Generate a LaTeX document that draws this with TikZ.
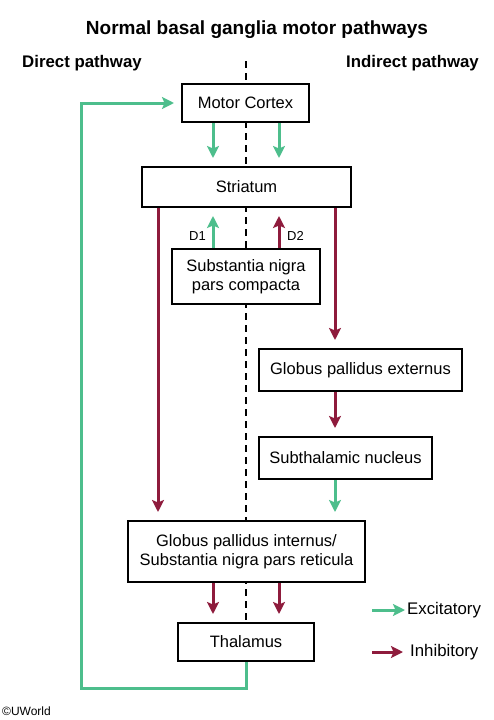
\documentclass[tikz,border=0pt]{standalone}
\usepackage{fontspec}
\setmainfont{Liberation Sans}
\usetikzlibrary{arrows.meta,backgrounds}
\definecolor{excgreen}{HTML}{4DBE8C}
\definecolor{inhred}{HTML}{8E1B3C}
\begin{document}
\begin{tikzpicture}[x=1pt,y=-1pt,
  box/.style={draw=black, line width=2pt, fill=white, inner sep=0pt, align=center, font=\fontsize{16.5}{19.5}\selectfont},
  conn/.style={line width=3pt, -{Stealth[length=12pt,width=12pt,inset=2.5pt]}, shorten >=8pt},
  exc/.style={conn, draw=excgreen, color=excgreen},
  inh/.style={conn, draw=inhred, color=inhred},
  head/.style={font=\fontsize{16.8}{20}\selectfont\bfseries},
  small/.style={font=\fontsize{13}{15}\selectfont, inner sep=1pt},
  legtext/.style={font=\fontsize{16.8}{20}\selectfont, anchor=west, inner sep=1pt},
  midline/.style={line width=2pt, dash pattern=on 7pt off 5pt}
]
\useasboundingbox (0,0) rectangle (493,720);

% headers
\node[font=\fontsize{19}{22}\selectfont\bfseries] (title) at (257,30) {Normal basal ganglia motor pathways};
\node[head] (direct) at (82,63) {Direct pathway};
\node[head] (indirect) at (412.5,63) {Indirect pathway};

% column positions
\coordinate (dtop) at (246,61);
\coordinate (L) at (213,0);
\coordinate (R) at (279,0);
\coordinate (F) at (158,0);
\coordinate (I) at (335,0);
\coordinate (fb) at (81,688);

% boxes
\node[box, minimum width=127pt, minimum height=38pt] (motor) at (245.5,103) {Motor Cortex};
\node[box, minimum width=209pt, minimum height=40pt] (striatum) at (246.5,187) {Striatum};
\node[box, minimum width=148pt, minimum height=55pt] (snc) at (246,276.5) {Substantia nigra\\pars compacta};
\node[box, minimum width=203pt, minimum height=42pt] (gpe) at (360.5,370) {Globus pallidus externus};
\node[box, minimum width=173pt, minimum height=42pt] (stn) at (345.5,458) {Subthalamic nucleus};
\node[box, minimum width=237pt, minimum height=61pt] (gpi) at (246.5,551.5) {Globus pallidus internus/\\Substantia nigra pars reticula};
\node[box, minimum width=136pt, minimum height=38pt] (thal) at (246,642) {Thalamus};

% dashed midline behind boxes
\begin{scope}[on background layer]
\draw[midline] (dtop) -- (thal.north);
\end{scope}

% cortex -> striatum
\draw[exc] (motor.south -| L) -- (striatum.north -| L);
\draw[exc] (motor.south -| R) -- (striatum.north -| R);

% SNc -> striatum
\draw[exc] (snc.north -| L) -- (striatum.south -| L);
\draw[inh] (snc.north -| R) -- (striatum.south -| R);
\node[small, anchor=east] (d1) at (207,236) {D1};
\node[small, anchor=west] (d2) at (286,236) {D2};

% direct pathway
\draw[inh] (striatum.south -| F) -- (gpi.north -| F);

% indirect pathway
\draw[inh] (striatum.south -| I) -- (gpe.north -| I);
\draw[inh] (gpe.south -| I) -- (stn.north -| I);
\draw[exc] (stn.south -| I) -- (gpi.north -| I);

% GPi -> thalamus
\draw[inh] (gpi.south -| L) -- (thal.north -| L);
\draw[inh] (gpi.south -| R) -- (thal.north -| R);

% feedback thalamus -> cortex
\draw[exc, line join=miter, shorten >=7pt] (thal.south) |- (fb) |- (motor.west);

% legend
\coordinate (exs) at (372,610);
\coordinate (ins) at (372,652);
\node[legtext] (exl) at (406,610) {Excitatory};
\node[legtext] (inl) at (409,652) {Inhibitory};
\draw[exc, shorten >=1pt] (exs) -- (exl.west);
\draw[inh, shorten >=6pt] (ins) -- (inl.west);

% copyright
\node[font=\fontsize{12}{14}\selectfont, anchor=west, inner sep=0pt] (copy) at (2,711) {©UWorld};
\end{tikzpicture}
\end{document}
